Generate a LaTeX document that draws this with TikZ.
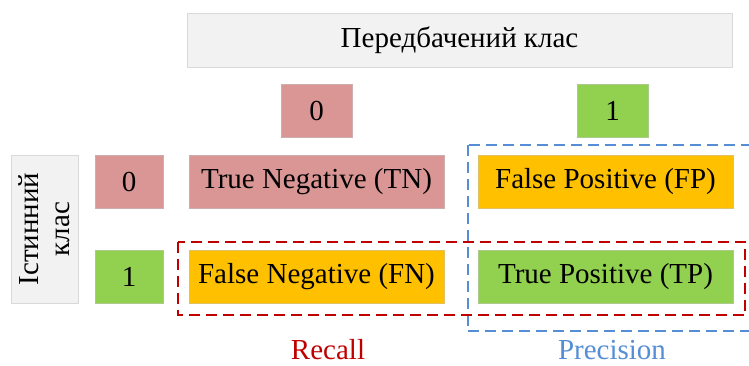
\documentclass[tikz,border=0pt]{standalone}
\usepackage{fontspec}
\setmainfont{Liberation Serif}
\usetikzlibrary{positioning, fit, calc}

\definecolor{negpink}{HTML}{D99694}
\definecolor{posgreen}{HTML}{92D050}
\definecolor{erramber}{HTML}{FFC000}
\definecolor{headgray}{HTML}{F2F2F2}
\definecolor{recallred}{HTML}{C00000}
\definecolor{precblue}{HTML}{558ED5}

\begin{document}
\begin{tikzpicture}[
      x=1pt, y=-1pt,
      cell/.style={draw=#1!80!black!60, fill=#1, line width=0.6pt, inner sep=0pt, minimum height=53pt, font=\fontsize{29}{31}\selectfont},
      header/.style={draw=black!15, fill=headgray, line width=1pt, inner sep=0pt, font=\fontsize{29}{31}\selectfont},
      measure/.style={dash pattern=on 11pt off 6pt, line width=2pt},
      metric/.style={font=\fontsize{29}{31}\selectfont, inner sep=0pt}
  ]
      \useasboundingbox (0,0) rectangle (749,365);

      % Headers
      \node[header, minimum width=545pt, minimum height=54pt] (pred) at (459.5,40) {Передбачений клас};
      \node[header, rotate=90, align=center, minimum width=148pt, minimum height=67pt] (true) at (44.5,229) {Істинний\\клас};

      % Class labels
      \node[cell=negpink, minimum width=71pt]  (p0) at (316.5,110.5) {0};
      \node[cell=posgreen, minimum width=71pt] (p1) at (612.5,110.5) {1};
      \node[cell=negpink, minimum width=68pt]  (t0) at (129,181.5) {0};
      \node[cell=posgreen, minimum width=68pt] (t1) at (129,276.5) {1};

      % Matrix cells
      \node[cell=negpink, minimum width=255pt]  (tn) at (316.5,181.5) {True Negative (TN)};
      \node[cell=erramber, minimum width=255pt] (fp) at (605.5,181.5) {False Positive (FP)};
      \node[cell=erramber, minimum width=255pt] (fn) at (316.5,276.5) {False Negative (FN)};
      \node[cell=posgreen, minimum width=255pt] (tp) at (605.5,276.5) {True Positive (TP)};

      % Recall / Precision
      \draw[measure, precblue] ($(fp.north west)+(-10,-10)$) rectangle ($(tp.south east)+(30,28)$);
      \draw[measure, recallred] ($(fn.north west)+(-11,-8)$) rectangle ($(tp.south east)+(12,12)$);
      \node[metric, text=recallred] (recall) at (328,350) {Recall};
      \node[metric, text=precblue] (precision) at (612,350) {Precision};
  \end{tikzpicture}
\end{document}
